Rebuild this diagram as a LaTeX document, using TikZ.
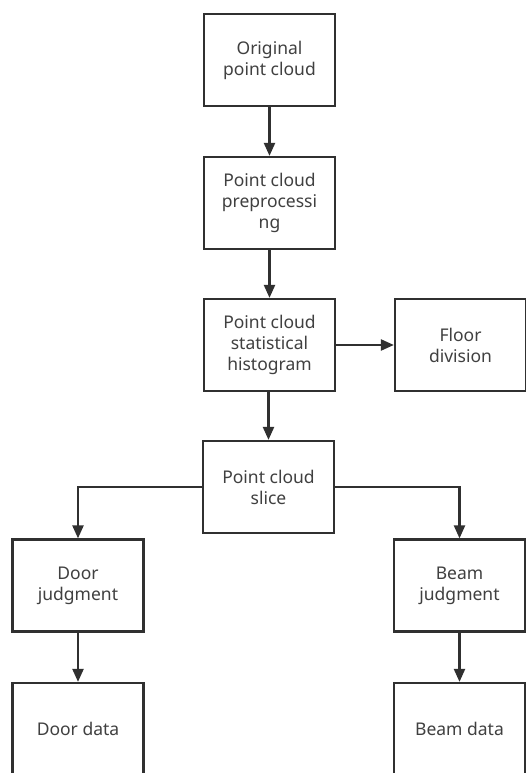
\documentclass[tikz,border=0pt]{standalone}
\usepackage{fontspec}
\setmainfont{Noto Sans}
\usetikzlibrary{arrows.meta}
\definecolor{linec}{HTML}{303030}
\definecolor{textc}{HTML}{404040}
\begin{document}
\begin{tikzpicture}[x=1pt,y=-1pt,
  box/.style={draw=linec, line width=2.2pt, fill=white, minimum width=131pt, minimum height=92pt,
    inner sep=0pt, align=center, text=textc, font=\fontsize{17.5}{21}\selectfont},
  conn/.style={draw=linec, line width=2.2pt, -{Triangle[length=13pt,width=11pt]}}]
\useasboundingbox (0,0) rectangle (525,773);
\node[box] (orig) at (269.5,60) {Original\\point cloud};
\node[box] (pre) at (269.5,203) {Point cloud\\preprocessi\\ng};
\node[box] (hist) at (269.5,345) {Point cloud\\statistical\\histogram};
\node[box] (floor) at (460.5,345) {Floor\\division};
\node[box] (slice) at (268.5,487) {Point cloud\\slice};
\node[box] (door) at (78,585.5) {Door\\judgment};
\node[box] (beam) at (459.5,585.5) {Beam\\judgment};
\node[box] (ddata) at (78,729) {Door data};
\node[box] (bdata) at (459.5,729) {Beam data};
\draw[conn] (orig) -- (pre);
\draw[conn] (pre) -- (hist);
\draw[conn] (hist) -- (floor);
\draw[conn] (hist.south -| slice.north) -- (slice.north);
\draw[conn] (slice.west) -| (door.north);
\draw[conn] (slice.east) -| (beam.north);
\draw[conn] (door) -- (ddata);
\draw[conn] (beam) -- (bdata);
\end{tikzpicture}
\end{document}
